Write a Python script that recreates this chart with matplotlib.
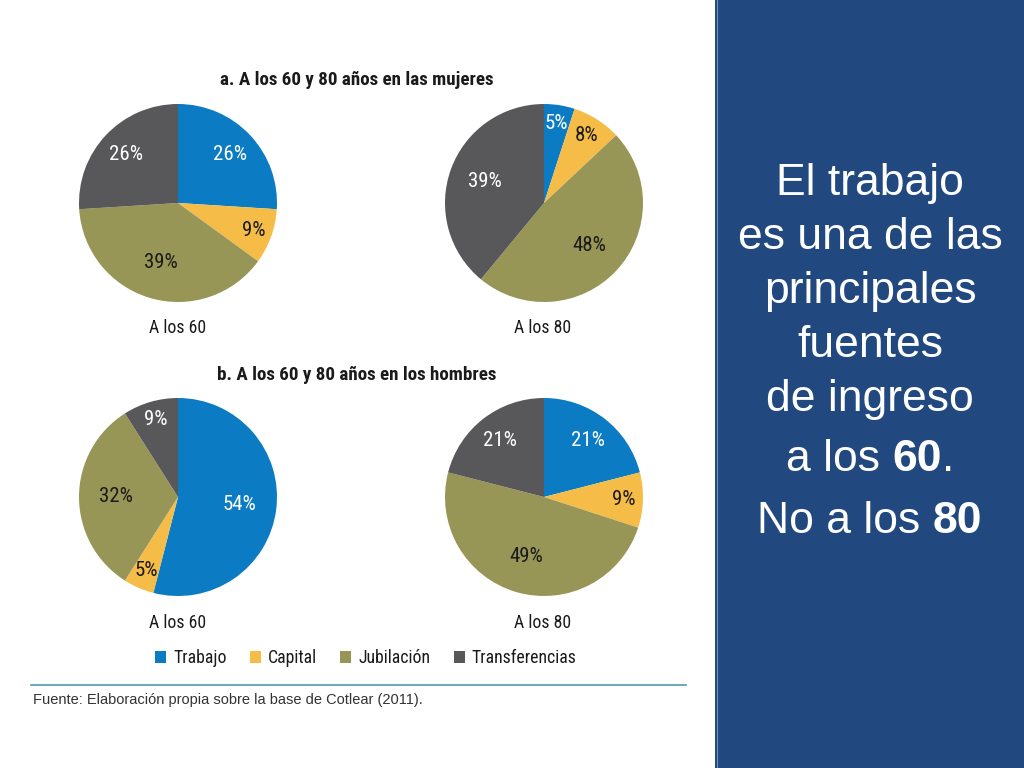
import matplotlib
matplotlib.use("Agg")
import numpy as np
import matplotlib.pyplot as plt
from matplotlib.patches import Rectangle, Patch
from matplotlib.lines import Line2D
from matplotlib import font_manager as fm
from matplotlib.font_manager import FontProperties

# ---------------- data ----------------
categories = ["Trabajo", "Capital", "Jubilación", "Transferencias"]
mujeres_60 = [26, 9, 39, 26]
mujeres_80 = [5, 8, 48, 39]
hombres_60 = [54, 5, 32, 9]
hombres_80 = [21, 9, 49, 21]
pie_labels = ["A los 60", "A los 80"]
title_a = "a. A los 60 y 80 años en las mujeres"
title_b = "b. A los 60 y 80 años en los hombres"
source = "Fuente: Elaboración propia sobre la base de Cotlear (2011)."
side_lines = [
    [("El trabajo", False)],
    [("es una de las", False)],
    [("principales", False)],
    [("fuentes", False)],
    [("de ingreso", False)],
    [("a los ", False), ("60", True), (".", False)],
    [("No a los ", False), ("80", True)],
]

# ---------------- style ----------------
colors = ["#0b7bc4", "#f5bd48", "#989656", "#58585a"]
text_colors = ["white", "#1a1a1a", "#1a1a1a", "white"]
SANS = ["Liberation Sans", "DejaVu Sans"]


def pick_narrow():
    cands = [("Liberation Sans Narrow", "normal", "Narrow"),
             ("Roboto Condensed", "normal", "Condensed"),
             ("DejaVu Sans", "condensed", "Condensed"),
             ("Open Sans Condensed", "normal", "Condensed")]
    for fam, stretch, key in cands:
        try:
            p = fm.findfont(FontProperties(family=fam, stretch=stretch),
                            fallback_to_default=False)
            if key.lower() in p.lower():
                return fam, stretch
        except Exception:
            pass
    return "Liberation Sans", "normal"


NFAM, NSTRETCH = pick_narrow()
NARROW = [NFAM, "DejaVu Sans"]

W, H = 1024, 768
fig = plt.figure(figsize=(W / 100, H / 100), dpi=100)
fig.patch.set_facecolor("white")
renderer = fig.canvas.get_renderer()


def fit_size(s, target_px, weight="normal", base=20):
    t = fig.text(0, 0, s, fontsize=base, family=NARROW, fontstretch=NSTRETCH,
                 fontweight=weight)
    w = t.get_window_extent(renderer).width
    t.remove()
    return base * target_px / w


pct_size = min(fit_size("26%", 34), 15)
title_size = min(fit_size(title_a, 274, "bold"), 15)
sub_size = min(fit_size("A los 60", 57), 15)
leg_size = min(fit_size("Transferencias", 105), 15)


def px_axes(x0, y0, w, h):
    return fig.add_axes([x0 / W, 1 - (y0 + h) / H, w / W, h / H])


def label_dist(v):
    if v < 10:
        return 0.81
    if v < 30:
        return 0.72
    return 0.63


def draw_pie(cx, cy, r, values):
    ax = px_axes(cx - r, cy - r, 2 * r, 2 * r)
    wedges, _ = ax.pie(values, colors=colors, startangle=90, counterclock=False,
                       radius=1.0, wedgeprops=dict(linewidth=0))
    for w, v, tc in zip(wedges, values, text_colors):
        ang = np.deg2rad((w.theta1 + w.theta2) / 2)
        d = label_dist(v)
        ax.text(d * np.cos(ang), d * np.sin(ang), f"{v}%", ha="center", va="center",
                color=tc, fontsize=pct_size, family=NARROW, fontstretch=NSTRETCH)
    ax.set_xlim(-1, 1)
    ax.set_ylim(-1, 1)
    ax.set_aspect("equal")
    ax.axis("off")
    return ax


R = 99
draw_pie(178, 203, R, mujeres_60)
draw_pie(544, 203, R, mujeres_80)
draw_pie(178, 497, R, hombres_60)
draw_pie(544, 497, R, hombres_80)

# titles
for ttl, y in ((title_a, 80), (title_b, 375)):
    fig.text(357 / W, 1 - y / H, ttl, ha="center", va="center", fontsize=title_size,
             fontweight="bold", family=NARROW, fontstretch=NSTRETCH, color="#1a1a1a")

# sub labels
for y in (328, 623):
    fig.text(178 / W, 1 - y / H, pie_labels[0], ha="center", va="center",
             fontsize=sub_size, family=NARROW, fontstretch=NSTRETCH, color="#1a1a1a")
    fig.text(543 / W, 1 - y / H, pie_labels[1], ha="center", va="center",
             fontsize=sub_size, family=NARROW, fontstretch=NSTRETCH, color="#1a1a1a")

# legend
handles = [Patch(facecolor=c, edgecolor="none") for c in colors]
leg = fig.legend(handles, categories, loc="center", ncol=4,
                 bbox_to_anchor=(366 / W, 1 - 658 / H), frameon=False,
                 prop=FontProperties(family=NARROW, stretch=NSTRETCH, size=leg_size),
                 handlelength=0.62, handleheight=0.62, handletextpad=0.4,
                 columnspacing=1.3)
for t in leg.get_texts():
    t.set_color("#1a1a1a")

# divider and source
fig.add_artist(Line2D([31 / W, 686 / W], [1 - 685 / H, 1 - 685 / H],
                      transform=fig.transFigure, color="#4f9bab", linewidth=1.2))
fig.text(33 / W, 1 - 700 / H, source, ha="left", va="center", fontsize=10.5,
         family=SANS, color="#333333")

# right blue panel
fig.add_artist(Rectangle((715 / W, 0), 1 - 715 / W, 1, transform=fig.transFigure,
                         facecolor="#21497f", edgecolor="none", zorder=0))
fig.add_artist(Line2D([716.5 / W, 716.5 / W], [0, 1], transform=fig.transFigure,
                      color="#6f8fb8", linewidth=0.8))

baselines = [195, 249, 303, 357, 411, 471, 533]
cx_panel = 870
for parts, yb in zip(side_lines, baselines):
    objs = []
    for s, bold in parts:
        t = fig.text(0, 1 - yb / H, s, ha="left", va="baseline", fontsize=32,
                     fontweight="bold" if bold else "normal", family=SANS,
                     color="white")
        objs.append(t)
    widths = [o.get_window_extent(renderer).width for o in objs]
    x = cx_panel - sum(widths) / 2
    for o, w in zip(objs, widths):
        o.set_x(x / W)
        x += w

fig.savefig("out.png", dpi=100, facecolor="white")
